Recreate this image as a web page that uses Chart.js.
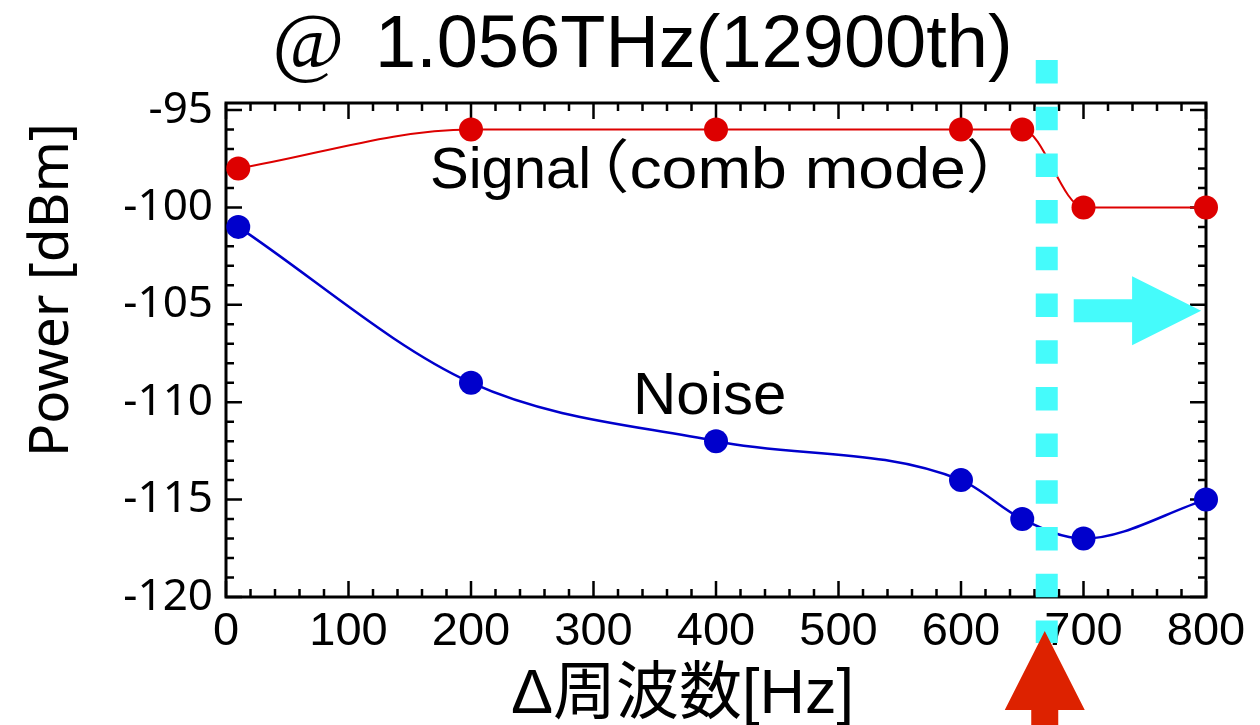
<!DOCTYPE html>
<html>
<head>
<meta charset="utf-8">
<script src="https://cdn.jsdelivr.net/npm/chart.js@4.4.1/dist/chart.umd.min.js"></script>
<style>
  html, body { margin: 0; padding: 0; background: #fff; }
  canvas { display: block; }
</style>
</head>
<body>
<canvas id="powerChart" width="1260" height="725"></canvas>
<script>
// ── Data ─────────────────────────────────────
const freqHz    = [10, 200, 400, 600, 650, 700, 800];
const signalDbm = [-98, -96, -96, -96, -96, -100, -100];
const noiseDbm  = [-101, -109, -112, -114, -116, -117, -115];
const xTickVals = [0, 100, 200, 300, 400, 500, 600, 700, 800];
const yTickVals = [-120, -115, -110, -105, -100, -95];

// marker line / arrow positions (data units)
const markerHz   = 670;
const arrowFrom  = 692;
const arrowTo    = 796;
const arrowLevel = -105.3;

const RED  = '#dd0000';
const BLUE = '#0000cc';
const CYAN = '#45fbfb';

const toXY = (ys) => freqHz.map((f, i) => ({ x: f, y: ys[i] }));

// ── Frame, inner ticks, marker, arrows, texts ──
const decor = {
    id: 'decor',
    beforeDatasetsDraw(chart) {
        const { ctx, chartArea: a, scales: { x, y } } = chart;
        ctx.save();
        ctx.strokeStyle = '#000';
        ctx.lineWidth = 2.5;
        ctx.beginPath();
        for (let v = x.min; v <= x.max + 1e-6; v += 20) {
            const px = x.getPixelForValue(v);
            const len = v % 100 === 0 ? 16 : 8;
            ctx.moveTo(px, a.bottom); ctx.lineTo(px, a.bottom - len);
            ctx.moveTo(px, a.top);    ctx.lineTo(px, a.top + len);
        }
        for (let v = Math.ceil(y.min); v <= y.max + 1e-6; v += 1) {
            const py = y.getPixelForValue(v);
            const len = v % 5 === 0 ? 16 : 8;
            ctx.moveTo(a.left, py);  ctx.lineTo(a.left + len, py);
            ctx.moveTo(a.right, py); ctx.lineTo(a.right - len, py);
        }
        ctx.stroke();
        ctx.lineWidth = 3;
        ctx.strokeRect(a.left, a.top, a.right - a.left, a.bottom - a.top);
        ctx.restore();
    },
    afterDatasetsDraw(chart) {
        const { ctx, scales: { x, y } } = chart;
        ctx.save();
        // dashed cyan marker
        const mx = x.getPixelForValue(markerHz);
        ctx.strokeStyle = CYAN;
        ctx.lineWidth = 22;
        ctx.setLineDash([23.5, 23.2]);
        ctx.beginPath();
        ctx.moveTo(mx, 60);
        ctx.lineTo(mx, 643);
        ctx.stroke();
        ctx.setLineDash([]);

        // cyan arrow →
        const ax0 = x.getPixelForValue(arrowFrom);
        const ax1 = x.getPixelForValue(arrowTo);
        const ay  = y.getPixelForValue(arrowLevel);
        const headW = 69;
        ctx.fillStyle = CYAN;
        ctx.beginPath();
        ctx.moveTo(ax0, ay - 11.5);
        ctx.lineTo(ax1 - headW, ay - 11.5);
        ctx.lineTo(ax1 - headW, ay - 34.5);
        ctx.lineTo(ax1, ay);
        ctx.lineTo(ax1 - headW, ay + 34.5);
        ctx.lineTo(ax1 - headW, ay + 11.5);
        ctx.lineTo(ax0, ay + 11.5);
        ctx.closePath();
        ctx.fill();
        ctx.restore();
    },
    afterDraw(chart) {
        const { ctx, chartArea: a, scales: { x } } = chart;
        ctx.save();
        // red arrow ↑ under the marker
        const rx = x.getPixelForValue(markerHz) - 2;
        const tip = a.bottom + 34;
        const base = a.bottom + 113;
        ctx.fillStyle = '#dd2200';
        ctx.beginPath();
        ctx.moveTo(rx, tip);
        ctx.lineTo(rx + 40, base);
        ctx.lineTo(rx + 13.5, base);
        ctx.lineTo(rx + 13.5, chart.height);
        ctx.lineTo(rx - 13.5, chart.height);
        ctx.lineTo(rx - 13.5, base);
        ctx.lineTo(rx - 40, base);
        ctx.closePath();
        ctx.fill();

        ctx.fillStyle = '#000';
        ctx.textBaseline = 'alphabetic';
        ctx.textAlign = 'left';
        // title
        ctx.font = 'italic 78px "Liberation Serif"';
        ctx.fillText('@', 272, 67);
        ctx.font = '74px "Liberation Sans"';
        ctx.fillText('1.056THz(12900th)', 375, 67);

        // series labels
        ctx.font = '58px "Liberation Sans"';
        ctx.fillText('Signal', 430, 188);
        ctx.save();
        ctx.translate(565, 188);
        ctx.scale(1.11, 1);
        ctx.font = '58px "Liberation Sans", "Noto Sans CJK JP"';
        ctx.fillText('（comb mode）', 0, 0);
        ctx.restore();
        ctx.font = '60px "Liberation Sans"';
        ctx.fillText('Noise', 633, 414);

        // x axis title
        ctx.font = '63px "Liberation Sans", "Noto Sans CJK JP"';
        ctx.fillText('Δ周波数[Hz]', 511, 713);

        // y axis title
        ctx.translate(68, 290);
        ctx.rotate(-Math.PI / 2);
        ctx.textAlign = 'center';
        ctx.font = '55px "Noto Sans"';
        ctx.fillText('Power [dBm]', 0, 0);
        ctx.restore();
    }
};

new Chart(document.getElementById('powerChart'), {
    type: 'line',
    data: {
        datasets: [
            {
                label: 'Signal',
                data: toXY(signalDbm),
                borderColor: RED,
                backgroundColor: RED,
                borderWidth: 2,
                pointRadius: 12,
                pointBorderWidth: 0,
                cubicInterpolationMode: 'monotone',
                clip: false
            },
            {
                label: 'Noise',
                data: toXY(noiseDbm),
                borderColor: BLUE,
                backgroundColor: BLUE,
                borderWidth: 2.5,
                pointRadius: 12,
                pointBorderWidth: 0,
                cubicInterpolationMode: 'monotone',
                clip: false
            }
        ]
    },
    options: {
        responsive: false,
        animation: false,
        devicePixelRatio: 1,
        layout: { padding: { top: 103, right: 54, left: 0, bottom: 0 } },
        plugins: { legend: { display: false }, tooltip: { enabled: false } },
        scales: {
            x: {
                type: 'linear',
                min: 0,
                max: 800,
                grid: { display: false, drawTicks: false },
                border: { display: false },
                afterFit: (s) => { s.height = 128; },
                afterBuildTicks: (s) => { s.ticks = xTickVals.map(v => ({ value: v })); },
                ticks: {
                    autoSkip: false,
                    maxRotation: 0,
                    padding: 7,
                    color: '#000',
                    font: { family: 'Liberation Sans', size: 47 }
                }
            },
            y: {
                min: -120,
                max: -94.64,
                grid: { display: false, drawTicks: false },
                border: { display: false },
                afterFit: (s) => { s.width = 226; },
                afterBuildTicks: (s) => { s.ticks = yTickVals.map(v => ({ value: v })); },
                ticks: {
                    padding: 13,
                    color: '#000',
                    font: { family: 'Noto Sans', size: 44 }
                }
            }
        }
    },
    plugins: [decor]
});
</script>
</body>
</html>
